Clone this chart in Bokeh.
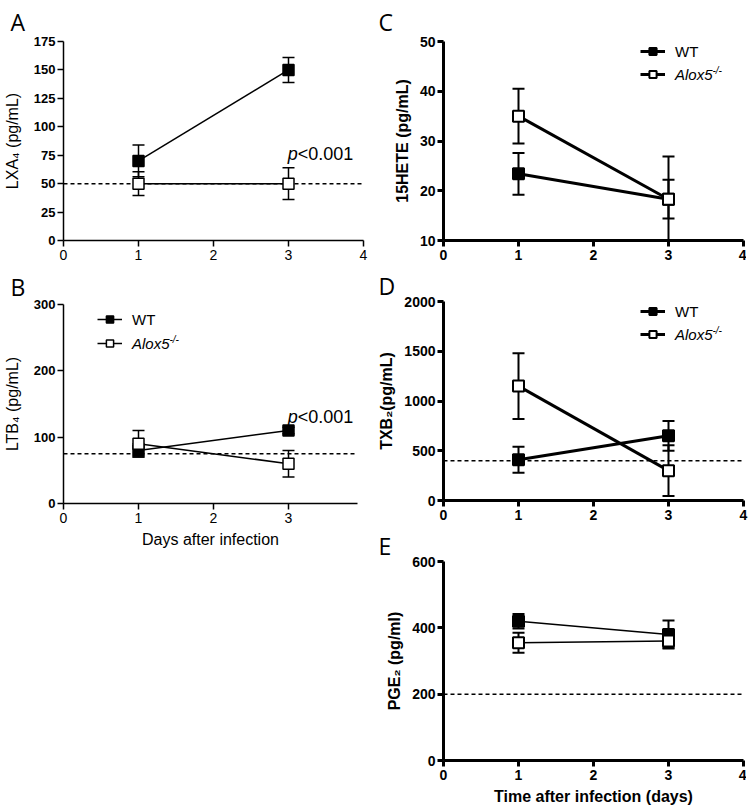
from bokeh.plotting import figure
from bokeh.models import (Range1d, FixedTicker, Span, Whisker, TeeHead, ColumnDataSource,
                          Legend, LegendItem, Label)
from bokeh.layouts import row, column
from bokeh.embed import file_html
from bokeh.resources import INLINE

# ---------------- data ----------------
days = [1, 3]

# A: LXA4 (pg/mL)
lxa4_wt = [70, 150]
lxa4_wt_err = [14, 11]
lxa4_ko = [50, 50]
lxa4_ko_err = [10.5, 14]
lxa4_baseline = 50

# B: LTB4 (pg/mL)
ltb4_wt = [80, 110]
ltb4_wt_err = [10, 5]
ltb4_ko = [90, 60]
ltb4_ko_err = [20, 20]
ltb4_baseline = 75

# C: 15HETE (pg/mL)
hete_wt = [23.4, 18.3]
hete_wt_err = [4.2, 3.9]
hete_ko = [35, 18.3]
hete_ko_err = [5.5, 8.6]

# D: TXB2 (pg/mL)
txb2_wt = [410, 650]
txb2_wt_err = [130, 150]
txb2_ko = [1150, 300]
txb2_ko_err = [330, 255]
txb2_baseline = 400

# E: PGE2 (pg/ml)
pge2_wt = [420, 380]
pge2_wt_err = [22, 42]
pge2_ko = [355, 360]
pge2_ko_err = [30, 20]
pge2_baseline = 200

ticks_a_y = [0, 25, 50, 75, 100, 125, 150, 175]
ticks_b_y = [0, 100, 200, 300]
ticks_c_y = [10, 20, 30, 40, 50]
ticks_d_y = [0, 500, 1000, 1500, 2000]
ticks_e_y = [0, 200, 400, 600]
ticks_x4 = [0, 1, 2, 3, 4]
ticks_x3 = [0, 1, 2, 3]

series_names = ["WT", "Alox5"]

FONT = "Liberation Sans"
LETTER_FONT = "Open Sans"


def make_panel(letter, xr, yr, xt, yt, ylabel, xlabel, wt, wt_err, ko, ko_err, baseline,
               thick, data_lw, frame_w, bl, br, bt, bb, xlabel_bold, title_standoff):
    p = figure(frame_width=frame_w, frame_height=199,
               x_range=Range1d(*xr), y_range=Range1d(*yr),
               output_backend="svg", toolbar_location=None,
               min_border_left=bl, min_border_right=br,
               min_border_top=bt, min_border_bottom=bb)
    p.outline_line_color = None
    p.xgrid.visible = False
    p.ygrid.visible = False
    p.background_fill_color = "white"
    p.border_fill_color = "white"

    p.title.text = letter
    p.title.text_font = LETTER_FONT
    p.title.text_font_size = "23px"
    p.title.text_font_style = "normal"
    p.title.text_color = "black"
    p.title.align = "left"
    p.title.offset = -(bl - 1)
    p.title.standoff = title_standoff

    alw = 3 if thick else 1.5
    for ax, ticks in ((p.xaxis[0], xt), (p.yaxis[0], yt)):
        ax.ticker = FixedTicker(ticks=ticks)
        ax.axis_line_width = alw
        ax.major_tick_line_width = alw
        ax.major_tick_out = 6
        ax.major_tick_in = 0
        ax.minor_tick_line_color = None
        ax.major_label_text_font = FONT
        ax.major_label_text_color = "black"
        ax.axis_label_text_font = FONT
        ax.axis_label_text_color = "black"
        ax.axis_label_text_font_size = "16px"

    p.yaxis.major_label_text_font_style = "bold"
    p.yaxis.major_label_text_font_size = "14px" if thick else "13px"
    p.yaxis.major_label_standoff = 2
    p.yaxis.axis_label = ylabel
    p.yaxis.axis_label_standoff = 6 if thick else 10
    p.yaxis.axis_label_text_font_style = "bold" if thick else "normal"

    p.xaxis.major_label_text_font_style = "bold" if thick else "normal"
    p.xaxis.major_label_text_font_size = "14px"
    p.xaxis.major_label_standoff = 3
    if xlabel:
        p.xaxis.axis_label = xlabel
        p.xaxis.axis_label_standoff = 5
        p.xaxis.axis_label_text_font_style = "bold" if xlabel_bold else "normal"

    if baseline is not None:
        p.add_layout(Span(location=baseline, dimension="width", line_dash="4 3",
                          line_width=1.5, line_color="black", level="underlay"))

    wlw = 2 if thick else 1.5
    mlw = 2 if thick else 1.5
    rends = []
    for vals, errs, fill in ((wt, wt_err, "black"), (ko, ko_err, "white")):
        src = ColumnDataSource(dict(
            x=days, y=vals,
            upper=[v + e for v, e in zip(vals, errs)],
            lower=[v - e for v, e in zip(vals, errs)]))
        p.add_layout(Whisker(source=src, base="x", upper="upper", lower="lower",
                             line_width=wlw, line_color="black", level="underlay",
                             upper_head=TeeHead(size=12, line_width=wlw, line_color="black"),
                             lower_head=TeeHead(size=12, line_width=wlw, line_color="black")))
        ln = p.line("x", "y", source=src, line_width=data_lw, line_color="black")
        sc = p.scatter("x", "y", source=src, marker="square", size=11,
                       fill_color=fill, line_color="black", line_width=mlw)
        rends.append([ln, sc])
    return p, rends


def add_legend(p, rends, lx, wt_bottom, ko_bottom, ko_center, sup_x):
    common = dict(border_line_color=None, background_fill_alpha=0, padding=0, margin=0,
                  glyph_width=25, glyph_height=18, label_height=18, label_standoff=10,
                  label_text_font=FONT, label_text_font_size="15px",
                  label_text_color="black", spacing=0)
    p.add_layout(Legend(items=[LegendItem(label=series_names[0], renderers=rends[0])],
                        location=(lx, wt_bottom), **common))
    p.add_layout(Legend(items=[LegendItem(label=series_names[1], renderers=rends[1])],
                        location=(lx, ko_bottom), label_text_font_style="italic", **common))
    p.add_layout(Label(x=sup_x, y=ko_center + 4, x_units="screen", y_units="screen",
                       text="-/-", text_font=FONT, text_font_size="10px", text_color="black",
                       text_font_style="italic", text_baseline="middle"))


def add_pval(p, x, y):
    p.add_layout(Label(x=x, y=y, text="p", text_font=FONT, text_font_size="18px",
                       text_font_style="italic", text_baseline="middle", text_color="black"))
    p.add_layout(Label(x=x, y=y, x_offset=10, text="<0.001", text_font=FONT,
                       text_font_size="18px", text_baseline="middle", text_color="black"))


pA, rA = make_panel("A", (0, 4), (0, 175), ticks_x4, ticks_a_y, "LXA\u2084 (pg/mL)", None,
                    lxa4_wt, lxa4_wt_err, lxa4_ko, lxa4_ko_err, lxa4_baseline,
                    False, 1.5, 300, 54, 12, 34, 27, False, 7)
add_pval(pA, 2.99, 76)

pB, rB = make_panel("B", (0, 3.92), (0, 300), ticks_x3, ticks_b_y, "LTB\u2084 (pg/mL)",
                    "Days after infection",
                    ltb4_wt, ltb4_wt_err, ltb4_ko, ltb4_ko_err, ltb4_baseline,
                    False, 1.5, 294, 54, 18, 29, 55, False, 3)
add_pval(pB, 2.99, 130)
add_legend(pB, rB, 34, 175, 151, 160, 34 + 72)

pC, rC = make_panel("C", (0, 4), (10, 50), ticks_x4, ticks_c_y, "15HETE (pg/mL)", None,
                    hete_wt, hete_wt_err, hete_ko, hete_ko_err, None,
                    True, 3, 300, 66, 5, 34, 27, True, 7)
add_legend(pC, rC, 197, 180, 157, 166, 197 + 72)

pD, rD = make_panel("D", (0, 4), (0, 2000), ticks_x4, ticks_d_y, "TXB\u2082(pg/mL)", None,
                    txb2_wt, txb2_wt_err, txb2_ko, txb2_ko_err, txb2_baseline,
                    True, 3, 300, 66, 5, 29, 27, True, 0)
add_legend(pD, rD, 197, 180, 157, 166, 197 + 72)

pE, rE = make_panel("E", (0, 4), (0, 600), ticks_x4, ticks_e_y, "PGE\u2082 (pg/ml)",
                    "Time after infection (days)",
                    pge2_wt, pge2_wt_err, pge2_ko, pge2_ko_err, pge2_baseline,
                    True, 1.5, 300, 66, 5, 28, 44, True, 0)

layout = row(column(pA, pB), column(pC, pD, pE))

open("out.html", "w").write(file_html(layout, INLINE))
